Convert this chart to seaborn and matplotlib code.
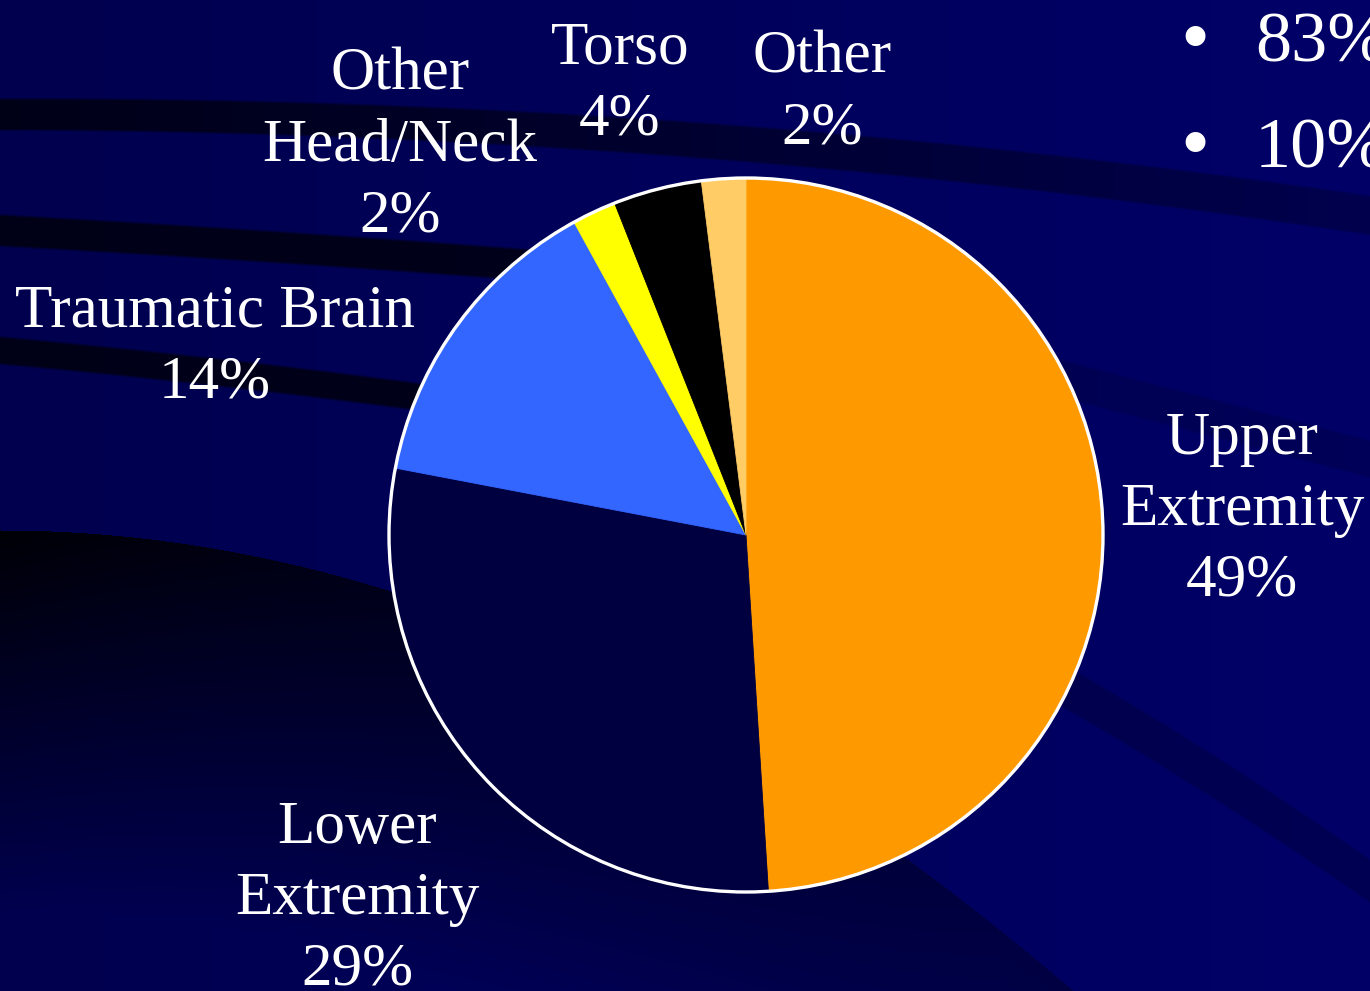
import numpy as np
import matplotlib
matplotlib.use("Agg")
import matplotlib.pyplot as plt
import seaborn as sns

sns.set_theme(style="white")
plt.rcParams['font.family'] = ['Liberation Serif', 'DejaVu Serif']

# Data
injury_types = ['Upper\nExtremity', 'Lower\nExtremity', 'Traumatic Brain',
                'Other\nHead/Neck', 'Torso', 'Other']
injury_pct = [49, 29, 14, 2, 4, 2]
slice_colors = ['#FF9900', '#000040', '#3366FF', '#FFFF00', '#000000', '#FFCC66']
bullet_values = ['83%', '10%']

W, H = 1370, 991

# --- slide style background (gradient with dark swooshes) ---
xx, yy = np.meshgrid(np.arange(W), np.arange(H))
base_b = 78 + 26 * xx / W
mult = np.ones((H, W))


def band(center, half, level):
    d = np.abs(yy - center)
    m = np.clip((d - half) / 3.0, 0, 1)
    return m + (1 - m) * level


cA = 114 - 0.00108 * xx + 5.46e-5 * xx ** 2
mult = np.minimum(mult, band(cA, 14 + 4 * xx / W, 0.3 + 0.45 * xx / W))
cB = 230 + 0.055 * xx + 2e-5 * xx ** 2
mult = np.minimum(mult, np.where(xx < 650, band(cB, 14, 0.3), 1))
cC = 350 + 0.09 * xx + 5e-5 * xx ** 2
mult = np.minimum(mult, np.where(xx < 650, band(cC, 12, 0.3), 1))
cD = 378 + 0.26 * (xx - 1060)
mult = np.minimum(mult, np.where(xx > 1000, band(cD, 17, 0.85), 1))
cE = 650 + 0.55 * (xx - 1000) + 2e-4 * (xx - 1000) ** 2
mult = np.minimum(mult, np.where(xx > 950, band(cE, 20, 0.8), 1))
ytop = 530 + 0.0004 * xx ** 2
lvl = 0.08 + 0.6 * np.clip(xx / 1000, 0, 1)
dark = np.where(yy >= ytop, np.clip(lvl + (yy - ytop) / 380 * (1 - lvl), 0, 1), 1)
mult = np.minimum(mult, dark)

img = np.zeros((H, W, 3))
img[..., 2] = base_b * mult / 255

fig = plt.figure(figsize=(13.7, 9.91), dpi=100)
ax = fig.add_axes([0, 0, 1, 1])
ax.imshow(img, extent=(0, W, 0, H), origin='upper', aspect='auto', zorder=0)

# --- pie ---
cx, cy, r = 746, H - 535, 357
wedges, _ = ax.pie(injury_pct, colors=slice_colors, startangle=90,
                   counterclock=False, center=(cx, cy), radius=r,
                   wedgeprops=dict(linewidth=0))
for w in wedges:
    w.set_zorder(2)
    w.set_edgecolor(w.get_facecolor())
    w.set_linewidth(0.6)
ax.add_patch(plt.Circle((cx, cy), r, fill=False, edgecolor='white',
                        linewidth=2.4, zorder=3))

# --- labels ---
label_pos = [(1242, 510), (357, 899), (215, 347), (400, 146), (620, 84), (822, 93)]
for name, pct, (px, py) in zip(injury_types, injury_pct, label_pos):
    ax.text(px, H - py, f"{name}\n{pct}%", ha='center', va='center',
            multialignment='center', color='white', fontsize=44,
            linespacing=1.36, zorder=4)

# bullets at top right (the slide cuts them off at the edge)
for val, by in zip(bullet_values, [62, 168]):
    ax.text(1195, H - by - 2, "\u2022", ha='center', va='baseline',
            color='white', fontsize=60, zorder=4)
    ax.text(1255, H - by, val, ha='left', va='baseline',
            color='white', fontsize=52, zorder=4)

ax.set_xlim(0, W)
ax.set_ylim(0, H)
ax.set_aspect('auto')
ax.axis('off')

fig.savefig('out.png', dpi=100)
